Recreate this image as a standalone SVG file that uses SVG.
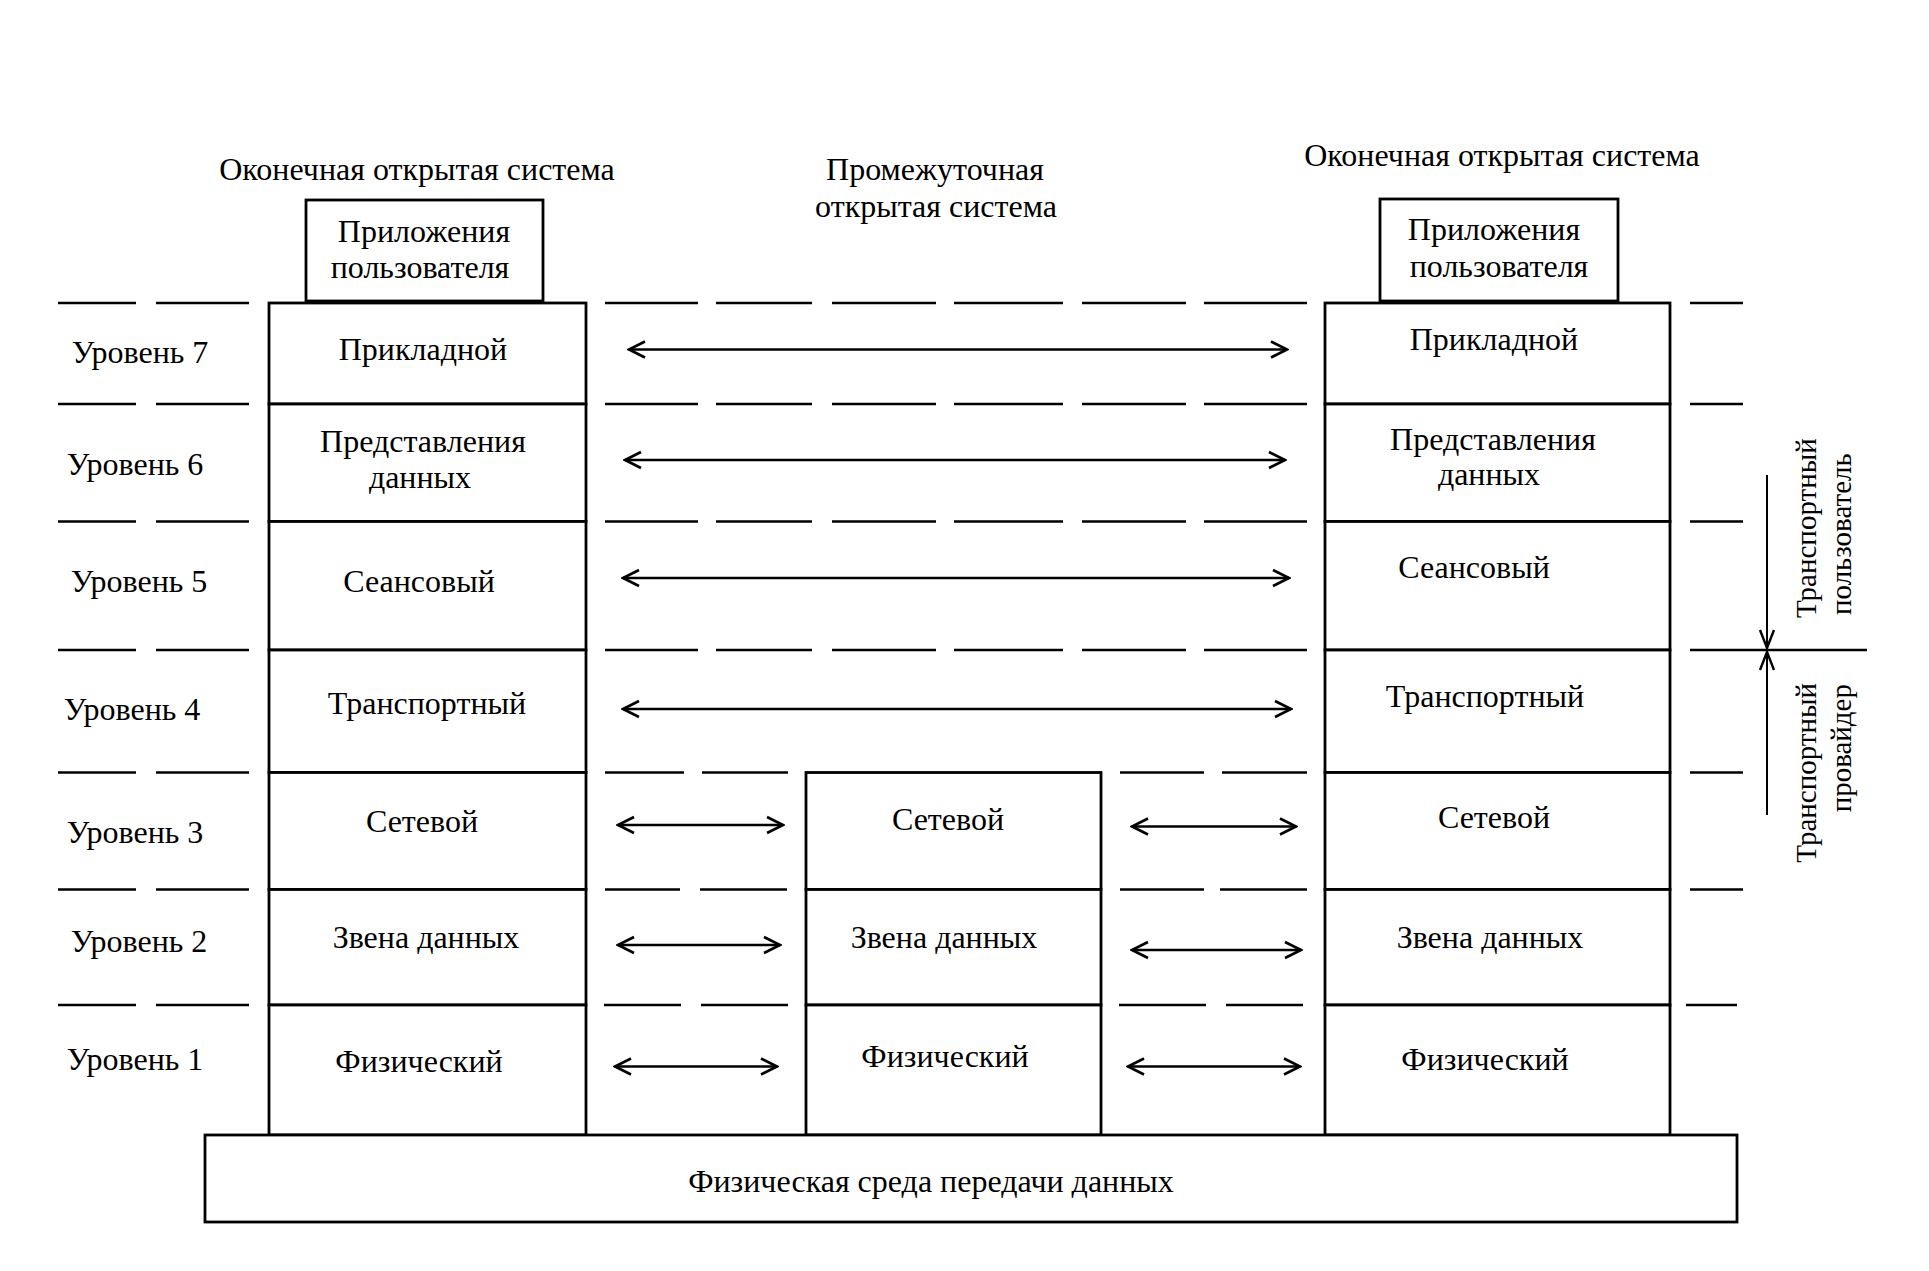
<svg xmlns="http://www.w3.org/2000/svg" width="1929" height="1271" viewBox="0 0 1929 1271">
<defs>
<style>
.t{font-family:"Liberation Serif","Times New Roman",serif;font-size:32px;fill:#000;text-anchor:middle}
.rt{font-family:"Liberation Serif","Times New Roman",serif;font-size:29px;fill:#000}
.box{fill:#fff;stroke:#000;stroke-width:2.8}
.dash{fill:none;stroke:#000;stroke-width:2.6}
.arr{fill:none;stroke:#000;stroke-width:2.4;marker-start:url(#ah);marker-end:url(#ah)}
.brk{fill:none;stroke:#000;stroke-width:2;marker-end:url(#ah2)}
</style>
<marker id="ah" viewBox="0 0 22 20" refX="20" refY="10" markerWidth="22" markerHeight="20" markerUnits="userSpaceOnUse" orient="auto-start-reverse">
<path d="M4,2 L20,10 L4,18" fill="none" stroke="#000" stroke-width="2.6"/>
</marker>
<marker id="ah2" viewBox="0 0 22 20" refX="20" refY="10" markerWidth="22" markerHeight="20" markerUnits="userSpaceOnUse" orient="auto">
<path d="M2,3 L20,10 L2,17" fill="none" stroke="#000" stroke-width="2.4"/>
</marker>
</defs>
<rect x="0" y="0" width="1929" height="1271" fill="#fff"/>

<g id="connectors">
<g id="level-dividers">
<path class="dash" d="M58,303H136M156,303H249M605,303H698M716,303H812M832,303H936M954,303H1063M1082,303H1186M1204,303H1307M1690,303H1743"/>
<path class="dash" d="M58,404H136M156,404H249M605,404H698M716,404H812M832,404H936M954,404H1063M1082,404H1186M1204,404H1307M1690,404H1743"/>
<path class="dash" d="M58,521.5H136M156,521.5H249M605,521.5H698M716,521.5H812M832,521.5H936M954,521.5H1063M1082,521.5H1186M1204,521.5H1307M1690,521.5H1743"/>
<path class="dash" d="M58,650H136M156,650H249M605,650H698M716,650H812M832,650H936M954,650H1063M1082,650H1186M1204,650H1307M1690,650H1867"/>
<path class="dash" d="M58,772.5H136M156,772.5H249M605,772.5H684M702,772.5H788M1120,772.5H1204M1222,772.5H1307M1690,772.5H1743"/>
<path class="dash" d="M58,889.5H136M156,889.5H249M605,889.5H680M700,889.5H787M1120,889.5H1204M1220,889.5H1307M1690,889.5H1743"/>
<path class="dash" d="M58,1005H136M156,1005H249M604,1005H681M701,1005H788M1119,1005H1206M1226,1005H1303M1686,1005H1737"/>
</g>
<g id="peer-arrows">
<line class="arr" x1="629" y1="349.5" x2="1287" y2="349.5"/>
<line class="arr" x1="625" y1="460" x2="1285" y2="460"/>
<line class="arr" x1="623" y1="578" x2="1289" y2="578"/>
<line class="arr" x1="623" y1="709" x2="1291" y2="709"/>
<line class="arr" x1="618" y1="825" x2="783" y2="825"/>
<line class="arr" x1="1132" y1="826.5" x2="1296" y2="826.5"/>
<line class="arr" x1="618" y1="945" x2="780" y2="945"/>
<line class="arr" x1="1132" y1="950" x2="1301" y2="950"/>
<line class="arr" x1="615" y1="1066.5" x2="777" y2="1066.5"/>
<line class="arr" x1="1128" y1="1066.5" x2="1300" y2="1066.5"/>
</g>
<g id="transport-bracket">
<line class="brk" x1="1767" y1="475" x2="1767" y2="648"/>
<line class="brk" x1="1767" y1="815" x2="1767" y2="652"/>
</g>
</g>

<g id="title-left"><text class="t" x="417" y="180">Оконечная открытая система</text></g>
<g id="title-middle"><text class="t" x="935" y="180">Промежуточная</text><text class="t" x="936" y="217">открытая система</text></g>
<g id="title-right"><text class="t" x="1502" y="166">Оконечная открытая система</text></g>

<g id="app-left"><rect class="box" x="306" y="200" width="237" height="101"/><text class="t" x="424" y="242">Приложения</text><text class="t" x="420" y="278">пользователя</text></g>
<g id="app-right"><rect class="box" x="1380" y="199" width="238" height="102"/><text class="t" x="1494" y="240">Приложения</text><text class="t" x="1499" y="277">пользователя</text></g>

<g id="lvl7"><text class="t" x="140" y="363">Уровень 7</text></g>
<g id="lvl6"><text class="t" x="135" y="475">Уровень 6</text></g>
<g id="lvl5"><text class="t" x="139" y="592">Уровень 5</text></g>
<g id="lvl4"><text class="t" x="132" y="720">Уровень 4</text></g>
<g id="lvl3"><text class="t" x="135" y="843">Уровень 3</text></g>
<g id="lvl2"><text class="t" x="139" y="952">Уровень 2</text></g>
<g id="lvl1"><text class="t" x="135" y="1070">Уровень 1</text></g>

<g id="left-stack">
<g id="L7"><rect class="box" x="269" y="303" width="317" height="101"/><text class="t" x="423" y="360">Прикладной</text></g>
<g id="L6"><rect class="box" x="269" y="404" width="317" height="117.5"/><text class="t" x="423" y="452">Представления</text><text class="t" x="420" y="488">данных</text></g>
<g id="L5"><rect class="box" x="269" y="521.5" width="317" height="128.5"/><text class="t" x="419" y="592">Сеансовый</text></g>
<g id="L4"><rect class="box" x="269" y="650" width="317" height="122.5"/><text class="t" x="427" y="714">Транспортный</text></g>
<g id="L3"><rect class="box" x="269" y="772.5" width="317" height="117"/><text class="t" x="422" y="832">Сетевой</text></g>
<g id="L2"><rect class="box" x="269" y="889.5" width="317" height="115.5"/><text class="t" x="426" y="948">Звена данных</text></g>
<g id="L1"><rect class="box" x="269" y="1005" width="317" height="130"/><text class="t" x="419" y="1072">Физический</text></g>
</g>

<g id="middle-stack">
<g id="M3"><rect class="box" x="806" y="772.5" width="295" height="117"/><text class="t" x="948" y="830">Сетевой</text></g>
<g id="M2"><rect class="box" x="806" y="889.5" width="295" height="115.5"/><text class="t" x="944" y="948">Звена данных</text></g>
<g id="M1"><rect class="box" x="806" y="1005" width="295" height="130"/><text class="t" x="945" y="1067">Физический</text></g>
</g>

<g id="right-stack">
<g id="R7"><rect class="box" x="1325" y="303" width="345" height="101"/><text class="t" x="1494" y="350">Прикладной</text></g>
<g id="R6"><rect class="box" x="1325" y="404" width="345" height="117.5"/><text class="t" x="1493" y="450">Представления</text><text class="t" x="1489" y="485">данных</text></g>
<g id="R5"><rect class="box" x="1325" y="521.5" width="345" height="128.5"/><text class="t" x="1474" y="578">Сеансовый</text></g>
<g id="R4"><rect class="box" x="1325" y="650" width="345" height="122.5"/><text class="t" x="1485" y="707">Транспортный</text></g>
<g id="R3"><rect class="box" x="1325" y="772.5" width="345" height="117"/><text class="t" x="1494" y="828">Сетевой</text></g>
<g id="R2"><rect class="box" x="1325" y="889.5" width="345" height="115.5"/><text class="t" x="1490" y="948">Звена данных</text></g>
<g id="R1"><rect class="box" x="1325" y="1005" width="345" height="130"/><text class="t" x="1485" y="1070">Физический</text></g>
</g>

<g id="medium"><rect class="box" x="205" y="1135" width="1532" height="87"/><text class="t" x="931" y="1192">Физическая среда передачи данных</text></g>

<g id="transport-user">
<text class="rt" transform="translate(1816,618) rotate(-90)">Транспортный</text>
<text class="rt" transform="translate(1851,615) rotate(-90)">пользователь</text>
</g>
<g id="transport-provider">
<text class="rt" text-anchor="end" transform="translate(1816,683) rotate(-90)">Транспортный</text>
<text class="rt" text-anchor="end" transform="translate(1851,684) rotate(-90)">провайдер</text>
</g>
</svg>
